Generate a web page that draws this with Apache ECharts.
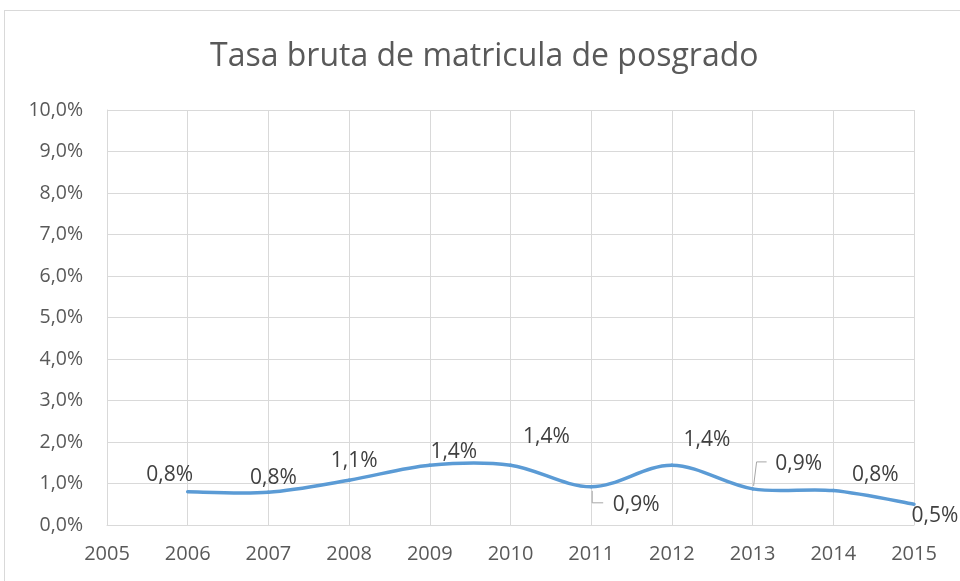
<!DOCTYPE html>
<html>
<head>
<meta charset="utf-8">
<script src="https://cdn.jsdelivr.net/npm/echarts@6/dist/echarts.min.js"></script>
<style>
html,body{margin:0;padding:0;background:#fff;}
#frame{position:absolute;left:4px;top:10px;width:1000px;height:600px;border:1px solid #d9d9d9;box-sizing:border-box;}
#chart{position:absolute;left:0;top:0;width:960px;height:581px;}
</style>
</head>
<body>
<div id="frame"></div>
<div id="chart"></div>
<script>
const titleText = 'Tasa bruta de matricula de posgrado';
const years = [2006, 2007, 2008, 2009, 2010, 2011, 2012, 2013, 2014, 2015];
const rates = [0.80, 0.79, 1.08, 1.44, 1.44, 0.92, 1.44, 0.87, 0.83, 0.50];
const xMin = 2005, xMax = 2015;
const yMin = 0, yMax = 10;

// label placement (style only, pixel offsets from each point)
const labelDx = [-18, 5, 5, 24, 36, 45, 35, 46, 42, 21];
const labelDy = [-17, -14, -19, -13, -28, 18, -25, -25, -16, 12];
// leader line offsets (style only), null = no leader
const leaderPts = [null, null, null, null, null,
  [[1, 4], [1, 16], [12, 16]], null,
  [[1, -3], [4, -27], [14, -27]], null, null];

const fmt = v => v.toFixed(1).replace('.', ',') + '%';
const LABEL_FONT = '21px "Open Sans"';

function renderItem(params, api) {
  const i = params.dataIndex;
  const n = years.length;
  const P = j => {
    const k = Math.max(0, Math.min(n - 1, j));
    return api.coord([years[k], rates[k]]);
  };
  const children = [];
  if (i < n - 1) {
    const p0 = P(i - 1), p1 = P(i), p2 = P(i + 1), p3 = P(i + 2);
    const t = 1 / 6;
    children.push({
      type: 'bezierCurve',
      shape: {
        x1: p1[0], y1: p1[1], x2: p2[0], y2: p2[1],
        cpx1: p1[0] + (p2[0] - p0[0]) * t, cpy1: p1[1] + (p2[1] - p0[1]) * t,
        cpx2: p2[0] - (p3[0] - p1[0]) * t, cpy2: p2[1] - (p3[1] - p1[1]) * t
      },
      style: {stroke: '#5b9bd5', fill: null, lineWidth: 3.5, lineCap: 'round'}
    });
  }
  const p = P(i);
  if (leaderPts[i]) {
    children.push({
      type: 'polyline',
      shape: {points: leaderPts[i].map(o => [p[0] + o[0], p[1] + o[1]])},
      style: {stroke: '#a6a6a6', fill: null, lineWidth: 1}
    });
  }
  children.push({
    type: 'text',
    x: p[0] + labelDx[i], y: p[1] + labelDy[i],
    style: {text: fmt(rates[i]), font: LABEL_FONT, fill: '#404040', align: 'center', verticalAlign: 'middle'}
  });
  return {type: 'group', children: children};
}

const chart = echarts.init(document.getElementById('chart'), null, {renderer: 'canvas'});
chart.setOption({
  backgroundColor: 'transparent',
  animation: false,
  title: {
    text: titleText,
    left: 210,
    top: 41,
    padding: 0,
    textStyle: {fontFamily: 'Open Sans', fontWeight: 400, fontSize: 32, color: '#595959'}
  },
  grid: {left: 107, right: 46, top: 110, bottom: 56, containLabel: false},
  xAxis: {
    type: 'value', min: xMin, max: xMax, interval: 1,
    axisLine: {show: true, lineStyle: {color: '#d9d9d9', width: 1}},
    axisTick: {show: false},
    splitLine: {show: true, lineStyle: {color: '#d9d9d9', width: 1}},
    axisLabel: {formatter: v => String(v), fontFamily: 'Open Sans', fontSize: 20, color: '#595959', margin: 19}
  },
  yAxis: {
    type: 'value', min: yMin, max: yMax, interval: 1,
    axisLine: {show: true, lineStyle: {color: '#d9d9d9', width: 1}},
    axisTick: {show: false},
    splitLine: {show: true, lineStyle: {color: '#d9d9d9', width: 1}},
    axisLabel: {formatter: v => fmt(v), fontFamily: 'Open Sans', fontSize: 19.5, color: '#595959', margin: 24}
  },
  series: [{
    type: 'custom',
    clip: false,
    renderItem: renderItem,
    encode: {x: 0, y: 1},
    data: years.map((y, i) => [y, rates[i]])
  }]
});
</script>
</body>
</html>
